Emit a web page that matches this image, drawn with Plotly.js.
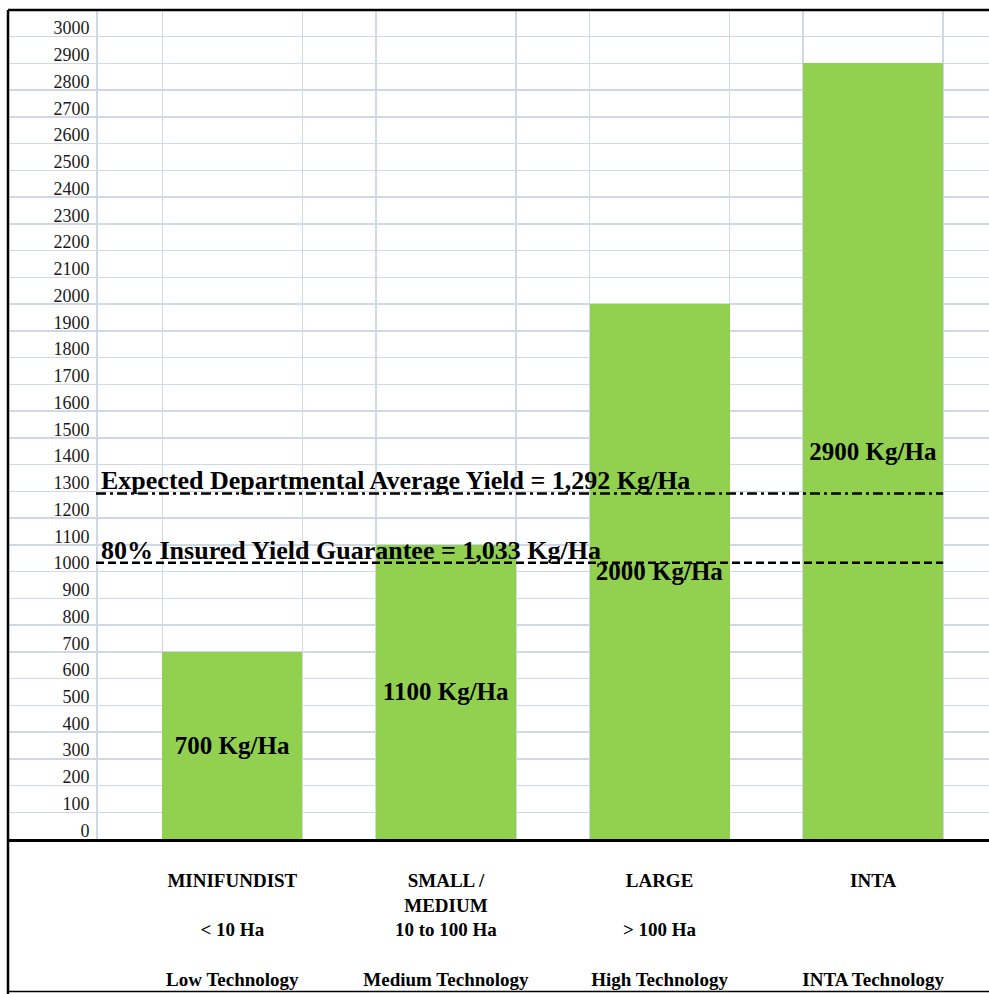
<!DOCTYPE html>
<html>
<head>
<meta charset="utf-8">
<script src="https://cdn.plot.ly/plotly-3.0.1.min.js"></script>
<style>
  html, body { margin: 0; padding: 0; background: #ffffff; }
  #chart { width: 989px; height: 994px; }
</style>
</head>
<body>
<div id="chart"></div>
<script>
// ---------------- data ----------------
const farmTypes   = ['MINIFUNDIST', 'SMALL /<br>MEDIUM', 'LARGE', 'INTA'];
const farmSizes   = ['&lt; 10 Ha', '10 to 100 Ha', '&gt; 100 Ha', ''];
const techLevels  = ['Low Technology', 'Medium Technology', 'High Technology', 'INTA Technology'];
const yields      = [700, 1100, 2000, 2900];          // Kg/Ha
const expectedYield  = 1292;                           // Kg/Ha
const guaranteeYield = 1033;                           // Kg/Ha (80% insured)
const yTicks = [0, 100, 200, 300, 400, 500, 600, 700, 800, 900, 1000,
                1100, 1200, 1300, 1400, 1500, 1600, 1700, 1800, 1900, 2000,
                2100, 2200, 2300, 2400, 2500, 2600, 2700, 2800, 2900, 3000];

// ---------------- layout constants ----------------
const W = 989, H = 994;
const M = { l: 8, r: 0, t: 10, b: 155 };
const plotW = W - M.l - M.r, plotH = H - M.t - M.b;
const xRange = [-1.0503, 3.5424];
const yRange = [0, 3100];
const barWidth = 0.655;
const axisPaperX = (96 - M.l) / plotW;                 // spreadsheet label column edge
const axisDataX = xRange[0] + axisPaperX * (xRange[1] - xRange[0]);
const gridColor = '#D0D7E5';
const serif = 'Liberation Serif, Times New Roman, serif';

const xPos = farmTypes.map((_, i) => i);
const tickText = farmTypes.map((t, i) => {
  const parts = t.split('<br>');
  const l1 = parts[0];
  const l2 = parts[1] || ' ';
  const l3 = farmSizes[i] || ' ';
  return l1 + '<br>' + l2 + '<br>' + l3 + '<br> <br>' + techLevels[i];
});
const yieldLabels = yields.map(v => v + ' Kg/Ha');
const edgeVals = [];
xPos.forEach(i => { edgeVals.push(i - barWidth / 2, i + barWidth / 2); });

const trace = {
  type: 'bar',
  x: xPos,
  y: yields,
  width: barWidth,
  marker: { color: '#92D050', line: { width: 0 } },
  text: yieldLabels,
  textposition: 'inside',
  insidetextanchor: 'middle',
  textangle: 0,
  constraintext: 'none',
  textfont: { family: serif, size: 25, color: '#000000', weight: 'bold' },
  hoverinfo: 'skip',
  showlegend: false
};

const fmt = v => v.toLocaleString('en-US');

const layout = {
  width: W, height: H,
  margin: M,
  paper_bgcolor: '#ffffff',
  plot_bgcolor: '#ffffff',
  showlegend: false,
  bargap: 0,
  xaxis: {
    type: 'linear',
    range: xRange,
    tickmode: 'array',
    tickvals: xPos,
    ticktext: tickText,
    ticks: '',
    showgrid: false,
    zeroline: false,
    showline: true,
    linecolor: '#000000',
    linewidth: 3,
    ticklabelstandoff: 22,
    tickfont: { family: serif, size: 19, color: '#000000', weight: 'bold' },
    minor: { tickmode: 'array', tickvals: edgeVals, showgrid: true, gridcolor: gridColor, gridwidth: 1.5, ticks: '' },
    fixedrange: true,
    automargin: false
  },
  yaxis: {
    range: yRange,
    anchor: 'free',
    position: axisPaperX,
    tickmode: 'array',
    tickvals: yTicks,
    ticktext: yTicks.map(String),
    ticks: '',
    ticklabelposition: 'outside top',
    ticklabelstandoff: 3,
    ticklabelshift: 4,
    showgrid: true,
    gridcolor: gridColor,
    gridwidth: 1.5,
    zeroline: false,
    showline: true,
    linecolor: gridColor,
    linewidth: 1.5,
    tickfont: { family: serif, size: 18, color: '#1a1a1a' },
    fixedrange: true,
    automargin: false
  },
  shapes: [
    // spreadsheet frame
    { type: 'line', xref: 'paper', yref: 'paper', x0: 0, x1: 1, y0: 1, y1: 1,
      line: { color: '#000000', width: 2.5 } },
    { type: 'line', xref: 'paper', yref: 'paper', x0: 0, x1: 0, y0: 1, y1: -M.b / plotH,
      line: { color: '#000000', width: 2.5 } },
    { type: 'line', xref: 'paper', yref: 'paper', x0: 0, x1: 1, y0: -(M.b - 2.5) / plotH, y1: -(M.b - 2.5) / plotH,
      line: { color: '#000000', width: 1.5 } },
    // reference yields
    { type: 'line', xref: 'x', yref: 'y', x0: axisDataX, x1: xPos[xPos.length - 1] + barWidth / 2,
      y0: expectedYield, y1: expectedYield, layer: 'above',
      line: { color: '#000000', width: 2.5, dash: '10px,4px,3px,4px' } },
    { type: 'line', xref: 'x', yref: 'y', x0: axisDataX, x1: xPos[xPos.length - 1] + barWidth / 2,
      y0: guaranteeYield, y1: guaranteeYield, layer: 'above',
      line: { color: '#000000', width: 2.5, dash: '8px,4px' } }
  ],
  annotations: [
    { xref: 'x', yref: 'y', x: axisDataX, y: expectedYield, xanchor: 'left', yanchor: 'bottom',
      xshift: 3, yshift: -4, showarrow: false,
      text: 'Expected Departmental Average Yield = ' + fmt(expectedYield) + ' Kg/Ha',
      font: { family: serif, size: 26, color: '#000000', weight: 'bold' } },
    { xref: 'x', yref: 'y', x: axisDataX, y: guaranteeYield, xanchor: 'left', yanchor: 'bottom',
      xshift: 3, yshift: -4, showarrow: false,
      text: '80% Insured Yield Guarantee = ' + fmt(guaranteeYield) + ' Kg/Ha',
      font: { family: serif, size: 26, color: '#000000', weight: 'bold' } }
  ]
};

Plotly.newPlot('chart', [trace], layout, { displayModeBar: false, staticPlot: true });
</script>
</body>
</html>
